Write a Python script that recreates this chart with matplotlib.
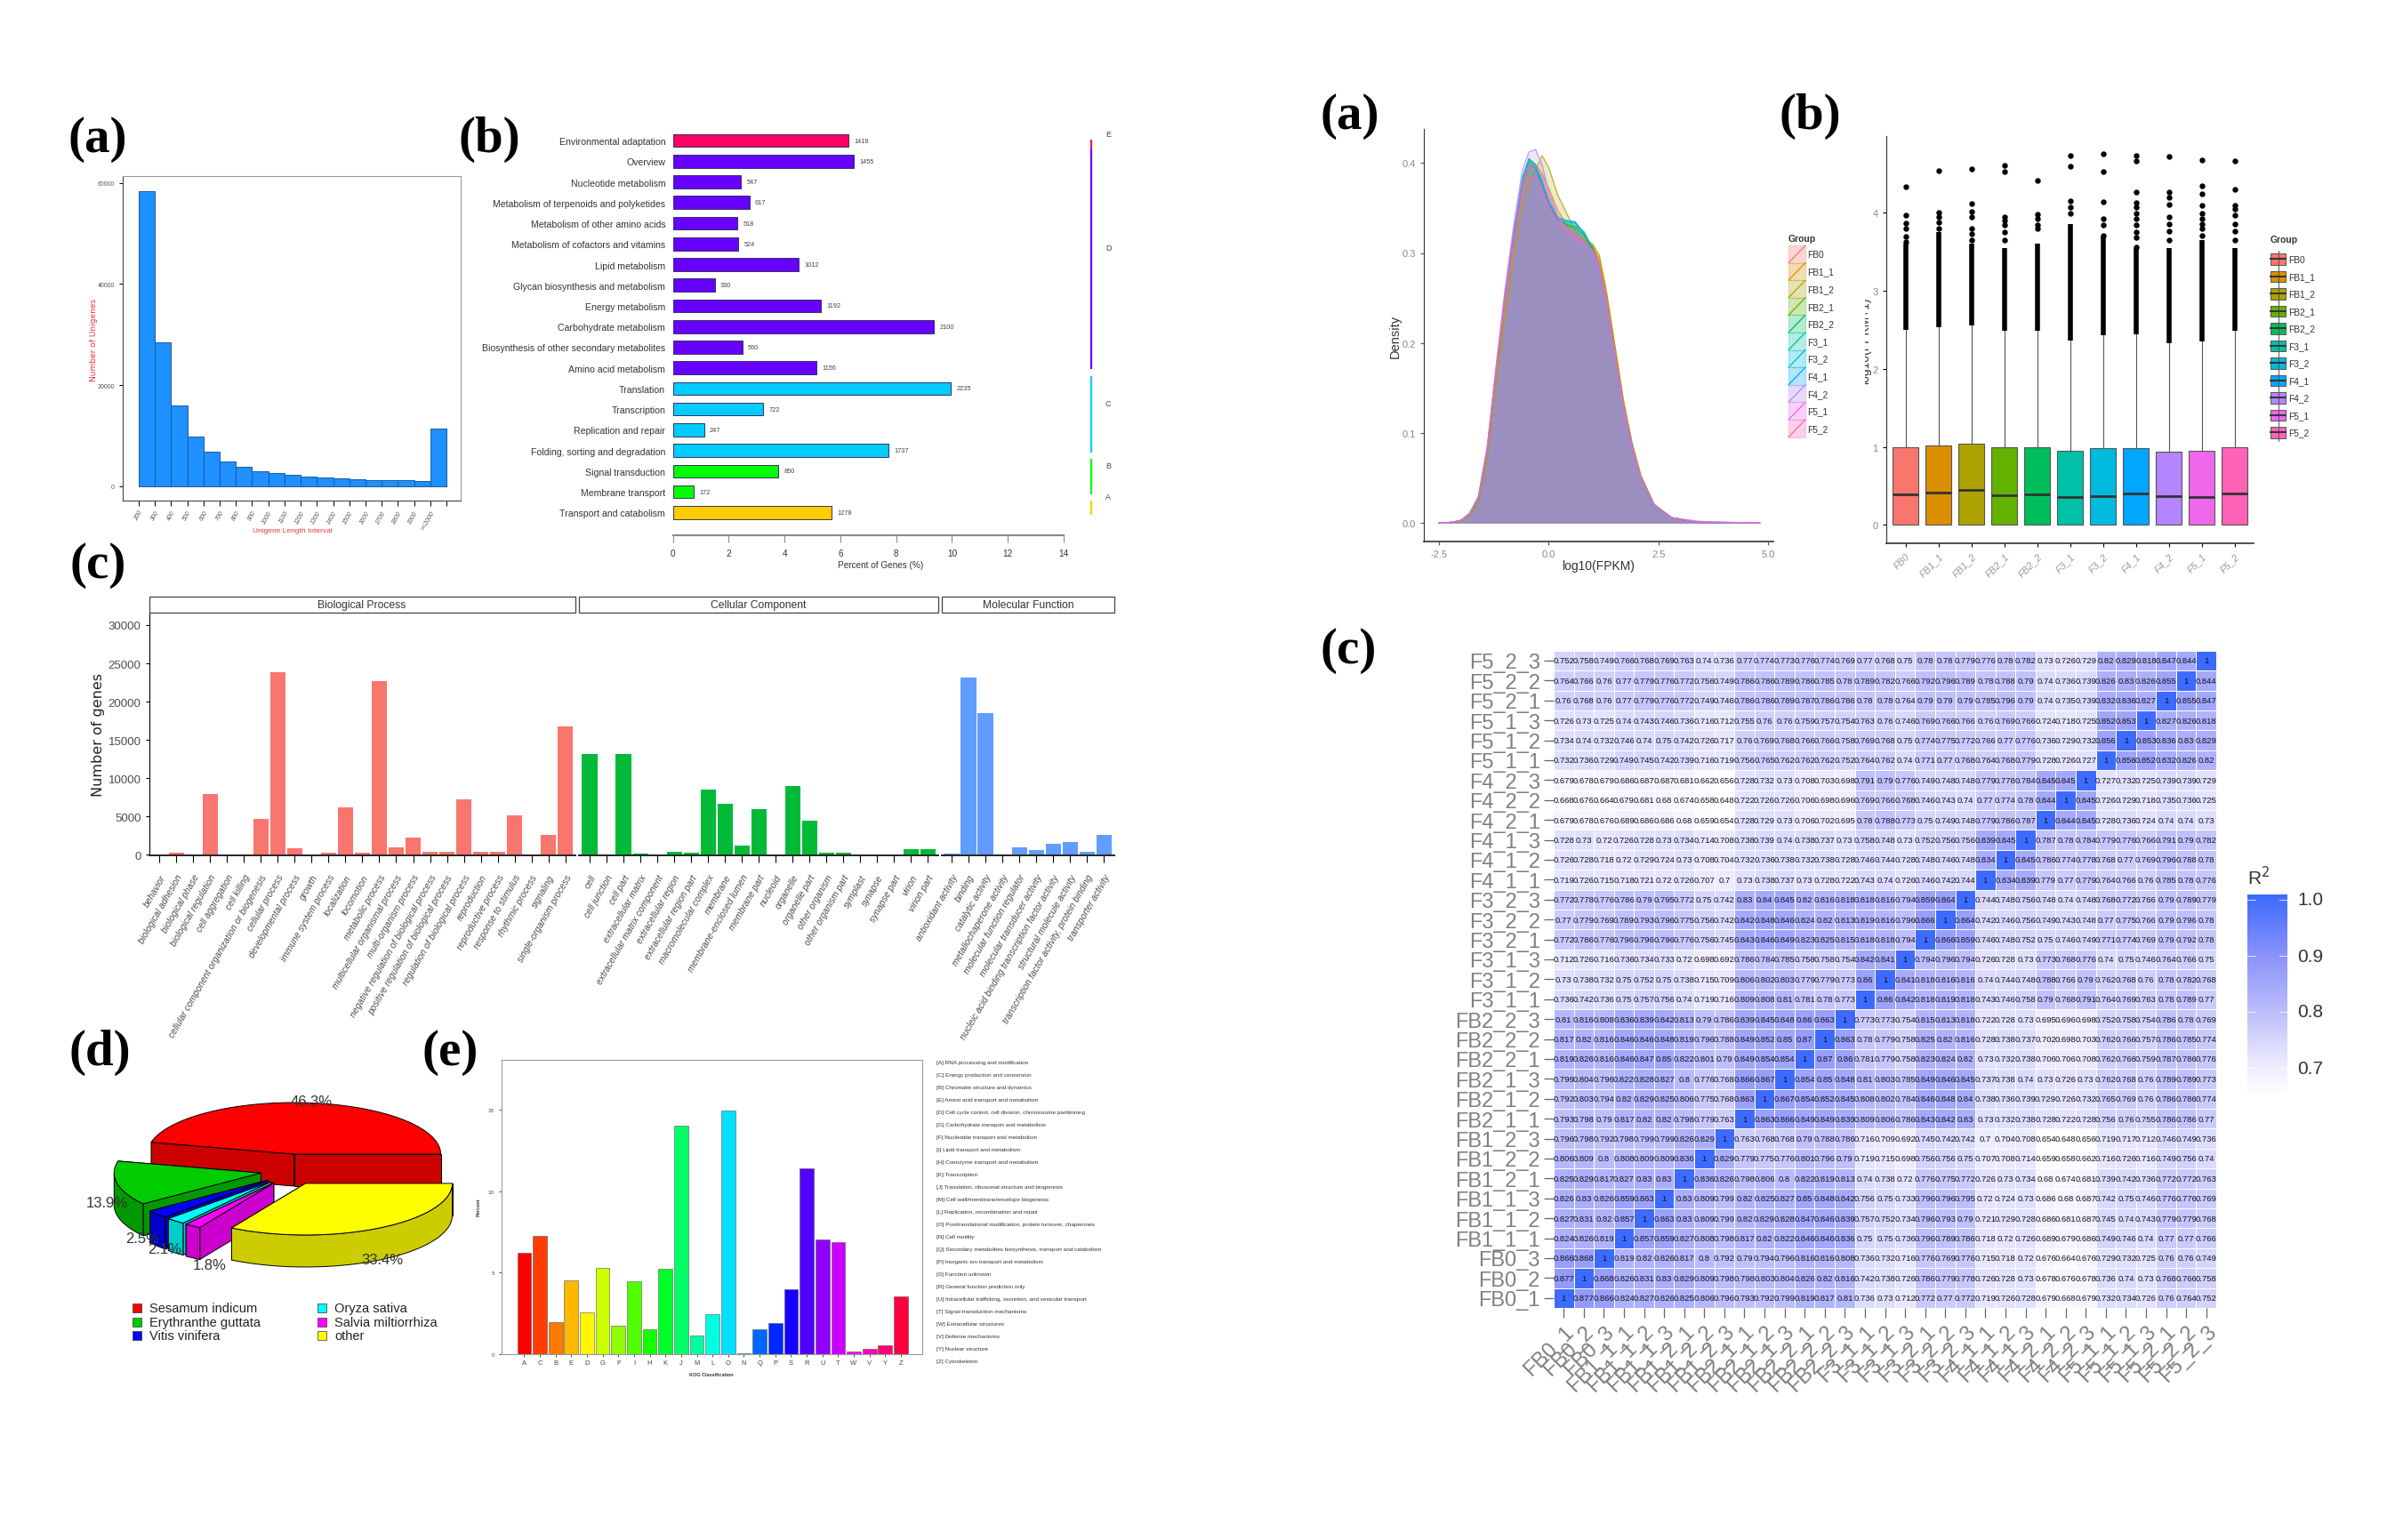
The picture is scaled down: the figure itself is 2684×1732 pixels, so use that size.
import colorsys
import numpy as np
import matplotlib
matplotlib.use("Agg")
import matplotlib.pyplot as plt
from matplotlib.colors import LinearSegmentedColormap
from matplotlib.patches import Polygon, Rectangle
from matplotlib.transforms import Bbox

plt.rcParams['font.family'] = ['Liberation Sans', 'DejaVu Sans']

W, H = 2684, 1733

# left (a) unigene length histogram
hist_labels = ['200','300','400','500','600','700','800','900','1000','1100','1200','1300',
               '1400','1500','1600','1700','1800','1900','>=2000']
hist_vals = [58300,28500,16000,9900,6800,4900,3800,3000,2700,2200,2000,1700,1500,1400,1250,1150,1150,1050,11500]

# left (b) KEGG
kegg_names = ['Environmental adaptation','Overview','Nucleotide metabolism','Metabolism of terpenoids and polyketides',
              'Metabolism of other amino acids','Metabolism of cofactors and vitamins','Lipid metabolism',
              'Glycan biosynthesis and metabolism','Energy metabolism','Carbohydrate metabolism',
              'Biosynthesis of other secondary metabolites','Amino acid metabolism','Translation','Transcription',
              'Replication and repair','Folding, sorting and degradation','Signal transduction','Membrane transport',
              'Transport and catabolism']
kegg_pct = [6.30,6.48,2.44,2.74,2.31,2.34,4.52,1.50,5.31,9.35,2.49,5.16,9.96,3.23,1.12,7.72,3.79,0.76,5.69]
kegg_counts = [1418,1455,547,617,518,524,1012,330,1192,2100,560,1156,2235,722,247,1737,850,172,1278]
kegg_groups = ['E','D','D','D','D','D','D','D','D','D','D','D','C','C','C','C','B','B','A']
kegg_colors = {'E':'#FF0060','D':'#6600FF','C':'#00CCFF','B':'#00FF00','A':'#FFCC00'}

# left (c) GO
bp_names = ['behavior','biological adhesion','biological phase','biological regulation','cell aggregation','cell killing',
            'cellular component organization or biogenesis','cellular process','developmental process','growth',
            'immune system process','localization','locomotion','metabolic process','multicellular organismal process',
            'multi-organism process','negative regulation of biological process','positive regulation of biological process',
            'regulation of biological process','reproduction','reproductive process','response to stimulus',
            'rhythmic process','signaling','single-organism process']
bp_vals = [50,250,30,7900,10,10,4700,23900,850,30,300,6250,300,22700,1000,2200,400,450,7300,400,350,5200,10,2650,16800]
cc_names = ['cell','cell junction','cell part','extracellular matrix','extracellular matrix component','extracellular region',
            'extracellular region part','macromolecular complex','membrane','membrane-enclosed lumen','membrane part',
            'nucleoid','organelle','organelle part','other organism','other organism part','symplast','synapse',
            'synapse part','virion','virion part']
cc_vals = [13200,50,13200,150,20,400,300,8500,6700,1150,6000,30,9000,4500,250,250,10,30,20,750,750]
mf_names = ['antioxidant activity','binding','catalytic activity','metallochaperone activity','molecular function regulator',
            'molecular transducer activity','nucleic acid binding transcription factor activity','structural molecule activity',
            'transcription factor activity, protein binding','transporter activity']
mf_vals = [200,23150,18450,30,950,650,1450,1650,350,2600]

# left (d) pie
pie_names = ['Sesamum indicum','Erythranthe guttata','Vitis vinifera','Oryza sativa','Salvia miltiorrhiza','other']
pie_vals = [46.3,13.9,2.5,2.1,1.8,33.4]
pie_top = ['#FF0000','#00CC00','#0000FF','#00FFFF','#FF00FF','#FFFF00']
pie_side = ['#CC0000','#009900','#0000CC','#00CCCC','#CC00CC','#CCCC00']

# left (e) KOG
kog_letters = list('ACBEDGFIHKJMLONQPSRUTWVYZ')
kog_vals = [6.2,7.25,1.95,4.55,2.55,5.3,1.75,4.45,1.55,5.25,14.0,1.15,2.45,14.95,0.08,1.55,1.9,4.0,11.4,7.05,6.85,0.15,0.35,0.55,3.55]
kog_text = ['[A] RNA processing and modification','[C] Energy production and conversion','[B] Chromatin structure and dynamics',
            '[E] Amino acid transport and metabolism','[D] Cell cycle control, cell division, chromosome partitioning',
            '[G] Carbohydrate transport and metabolism','[F] Nucleotide transport and metabolism','[I] Lipid transport and metabolism',
            '[H] Coenzyme transport and metabolism','[K] Transcription','[J] Translation, ribosomal structure and biogenesis',
            '[M] Cell wall/membrane/envelope biogenesis','[L] Replication, recombination and repair',
            '[O] Posttranslational modification, protein turnover, chaperones','[N] Cell motility',
            '[Q] Secondary metabolites biosynthesis, transport and catabolism','[P] Inorganic ion transport and metabolism',
            '[S] Function unknown','[R] General function prediction only','[U] Intracellular trafficking, secretion, and vesicular transport',
            '[T] Signal transduction mechanisms','[W] Extracellular structures','[V] Defense mechanisms','[Y] Nuclear structure','[Z] Cytoskeleton']

# right (a) density
groups = ['FB0','FB1_1','FB1_2','FB2_1','FB2_2','F3_1','F3_2','F4_1','F4_2','F5_1','F5_2']
group_colors = ['#F8766D','#DB8E00','#AEA200','#64B200','#00BD5C','#00C1A7','#00BADE','#00A6FF','#B385FF','#EF67EB','#FF63B6']
dens_x = [-2.5,-2.2,-2.0,-1.8,-1.6,-1.4,-1.2,-1.0,-0.8,-0.6,-0.45,-0.3,-0.15,0.0,0.2,0.4,0.6,0.8,1.0,1.15,1.3,1.5,1.7,1.9,2.1,2.4,2.8,3.4,4.8]
dens_fb0 = [0,.001,.003,.010,.027,.078,.163,.245,.315,.374,.396,.395,.378,.358,.338,.328,.322,.315,.308,.290,.254,.192,.130,.085,.050,.020,.006,.001,0]
dens_fb11 = [0,.001,.003,.009,.025,.074,.158,.238,.306,.366,.392,.398,.388,.372,.348,.332,.318,.312,.308,.294,.260,.198,.136,.088,.052,.021,.006,.001,0]
dens_fb12 = [0,.001,.002,.008,.023,.070,.150,.228,.295,.352,.378,.392,.408,.395,.365,.345,.325,.315,.310,.298,.262,.200,.137,.089,.053,.021,.006,.001,0]
dens_fb21 = [0,.001,.003,.010,.027,.080,.166,.248,.318,.378,.400,.396,.378,.356,.338,.332,.330,.324,.306,.286,.250,.190,.130,.084,.050,.020,.006,.001,0]
dens_fb22 = [0,.001,.003,.010,.028,.081,.168,.250,.320,.382,.404,.398,.378,.356,.337,.331,.328,.320,.305,.285,.249,.189,.129,.084,.050,.020,.006,.001,0]
dens_f31 = [0,.001,.003,.011,.029,.083,.170,.252,.322,.384,.405,.398,.378,.355,.337,.334,.333,.322,.302,.280,.244,.186,.127,.083,.049,.020,.006,.001,0]
dens_f32 = [0,.001,.003,.011,.029,.082,.169,.250,.320,.380,.402,.396,.378,.356,.339,.336,.335,.322,.302,.281,.246,.187,.128,.083,.049,.020,.006,.001,0]
dens_f41 = [0,.001,.003,.010,.027,.079,.164,.246,.316,.376,.398,.394,.376,.356,.340,.336,.334,.322,.304,.284,.250,.190,.130,.085,.050,.020,.006,.001,0]
dens_f42 = [0,.001,.003,.011,.030,.085,.174,.258,.330,.392,.412,.415,.398,.368,.342,.326,.316,.308,.300,.280,.245,.186,.127,.083,.049,.020,.006,.002,0]
dens_f51 = [0,.001,.003,.011,.029,.084,.171,.253,.323,.380,.398,.396,.384,.362,.340,.328,.320,.312,.302,.282,.246,.187,.128,.083,.049,.020,.006,.002,0]
dens_f52 = [0,.001,.003,.010,.028,.080,.165,.245,.310,.365,.385,.385,.370,.352,.335,.326,.318,.310,.303,.285,.250,.190,.130,.085,.050,.020,.006,.001,0]

# right (b) boxes
box_q1 = [0,0,0,0,0,0,0,0,0,0,0]
box_med = [.39,.41,.45,.385,.395,.355,.37,.405,.37,.355,.40]
box_q3 = [1.0,1.02,1.04,1.0,1.0,.95,.98,.98,.94,.95,1.0]
box_whi = [2.50,2.53,2.56,2.49,2.49,2.36,2.43,2.44,2.33,2.35,2.49]
band_top = [3.6,3.75,3.6,3.55,3.6,3.85,3.7,3.55,3.55,3.65,3.55]
flier_fb0 = [4.33,3.97,3.87,3.8,3.7,3.63]
flier_fb11 = [4.54,4.0,3.95,3.88,3.8]
flier_fb12 = [4.56,4.12,4.01,3.95,3.8,3.73,3.65]
flier_fb21 = [4.61,4.53,3.95,3.9,3.84,3.75,3.65]
flier_fb22 = [4.41,3.98,3.92,3.84,3.8]
flier_f31 = [4.73,4.6,4.15,4.07,3.99]
flier_f32 = [4.75,4.53,4.14,3.92,3.84,3.71]
flier_f41 = [4.73,4.67,4.26,4.13,4.07,3.99,3.92,3.84,3.75,3.69,3.56]
flier_f42 = [4.72,4.26,4.2,4.11,3.95,3.86,3.76,3.65]
flier_f51 = [4.68,4.35,4.24,4.09,3.99,3.92,3.86,3.8,3.71]
flier_f52 = [4.67,4.3,4.09,4.05,3.97,3.86,3.76,3.65]

# right (c) correlation heatmap, rows listed top to bottom
heat_labels = ['F5_2_3','F5_2_2','F5_2_1','F5_1_3','F5_1_2','F5_1_1','F4_2_3','F4_2_2','F4_2_1','F4_1_3','F4_1_2','F4_1_1',
               'F3_2_3','F3_2_2','F3_2_1','F3_1_3','F3_1_2','F3_1_1','FB2_2_3','FB2_2_2','FB2_2_1','FB2_1_3','FB2_1_2','FB2_1_1',
               'FB1_2_3','FB1_2_2','FB1_2_1','FB1_1_3','FB1_1_2','FB1_1_1','FB0_3','FB0_2','FB0_1']
heat_rows = [
 [.752,.758,.749,.766,.768,.769,.763,.74,.736,.77,.774,.773,.776,.774,.769,.77,.768,.75,.78,.78,.779,.776,.78,.782,.73,.726,.729,.82,.829,.818,.847,.844,1],
 [.764,.766,.76,.77,.779,.776,.772,.756,.749,.786,.786,.789,.786,.785,.78,.789,.782,.766,.792,.796,.789,.78,.788,.79,.74,.736,.739,.826,.83,.826,.855,1,.844],
 [.76,.768,.76,.77,.779,.776,.772,.749,.746,.786,.786,.789,.787,.786,.786,.78,.78,.764,.79,.79,.79,.785,.796,.79,.74,.735,.739,.832,.836,.827,1,.855,.847],
 [.726,.73,.725,.74,.743,.746,.736,.716,.712,.755,.76,.76,.759,.757,.754,.763,.76,.746,.769,.766,.766,.76,.769,.766,.724,.718,.725,.852,.853,1,.827,.826,.818],
 [.734,.74,.732,.746,.74,.75,.742,.726,.717,.76,.769,.768,.766,.766,.758,.769,.768,.75,.774,.775,.772,.766,.77,.776,.736,.729,.732,.856,1,.853,.836,.83,.829],
 [.732,.736,.729,.749,.745,.742,.739,.716,.719,.756,.765,.762,.762,.762,.752,.764,.762,.74,.771,.77,.768,.764,.768,.779,.728,.726,.727,1,.856,.852,.832,.826,.82],
 [.679,.678,.679,.686,.687,.687,.681,.662,.656,.728,.732,.73,.708,.703,.698,.791,.79,.776,.749,.748,.748,.779,.778,.784,.845,.845,1,.727,.732,.725,.739,.739,.729],
 [.668,.676,.664,.679,.681,.68,.674,.658,.648,.722,.726,.726,.706,.698,.696,.769,.766,.768,.746,.743,.74,.77,.774,.78,.844,1,.845,.726,.729,.718,.735,.736,.725],
 [.679,.678,.676,.689,.686,.686,.68,.659,.654,.728,.729,.73,.706,.702,.695,.78,.788,.773,.75,.749,.748,.779,.786,.787,1,.844,.845,.728,.736,.724,.74,.74,.73],
 [.728,.73,.72,.726,.728,.73,.734,.714,.708,.738,.739,.74,.738,.737,.73,.758,.748,.73,.752,.756,.756,.839,.845,1,.787,.78,.784,.779,.776,.766,.791,.79,.782],
 [.726,.728,.718,.72,.729,.724,.73,.708,.704,.732,.736,.738,.732,.738,.728,.746,.744,.728,.748,.746,.748,.834,1,.845,.786,.774,.778,.768,.77,.769,.796,.788,.78],
 [.719,.726,.715,.718,.721,.72,.726,.707,.7,.73,.738,.737,.73,.728,.722,.743,.74,.726,.746,.742,.744,1,.834,.839,.779,.77,.779,.764,.766,.76,.785,.78,.776],
 [.772,.778,.776,.786,.79,.795,.772,.75,.742,.83,.84,.845,.82,.816,.818,.818,.816,.794,.859,.864,1,.744,.748,.756,.748,.74,.748,.768,.772,.766,.79,.789,.779],
 [.77,.779,.769,.789,.793,.796,.775,.756,.742,.842,.848,.846,.824,.82,.813,.819,.816,.796,.866,1,.864,.742,.746,.756,.749,.743,.748,.77,.775,.766,.79,.796,.78],
 [.772,.786,.776,.796,.796,.796,.776,.756,.745,.843,.846,.849,.823,.825,.815,.818,.818,.794,1,.866,.859,.746,.748,.752,.75,.746,.749,.771,.774,.769,.79,.792,.78],
 [.712,.726,.716,.736,.734,.733,.72,.698,.692,.786,.784,.785,.758,.758,.754,.842,.841,1,.794,.796,.794,.726,.728,.73,.773,.768,.776,.74,.75,.746,.764,.766,.75],
 [.73,.738,.732,.75,.752,.75,.738,.715,.709,.806,.802,.803,.779,.779,.773,.86,1,.841,.818,.816,.816,.74,.744,.748,.788,.766,.79,.762,.768,.76,.78,.782,.768],
 [.736,.742,.736,.75,.757,.756,.74,.719,.716,.809,.808,.81,.781,.78,.773,1,.86,.842,.818,.819,.818,.743,.746,.758,.79,.768,.791,.764,.769,.763,.78,.789,.77],
 [.81,.816,.808,.836,.839,.842,.813,.79,.786,.839,.845,.848,.86,.863,1,.773,.773,.754,.815,.813,.818,.722,.728,.73,.695,.696,.698,.752,.758,.754,.786,.78,.769],
 [.817,.82,.816,.846,.846,.848,.819,.796,.788,.849,.852,.85,.87,1,.863,.78,.779,.758,.825,.82,.816,.728,.738,.737,.702,.698,.703,.762,.766,.757,.786,.785,.774],
 [.819,.826,.816,.846,.847,.85,.822,.801,.79,.849,.854,.854,1,.87,.86,.781,.779,.758,.823,.824,.82,.73,.732,.738,.706,.706,.708,.762,.766,.759,.787,.786,.776],
 [.799,.804,.796,.822,.828,.827,.80,.776,.768,.866,.867,1,.854,.85,.848,.81,.803,.785,.849,.846,.845,.737,.738,.74,.73,.726,.73,.762,.768,.76,.789,.789,.773],
 [.792,.803,.794,.82,.829,.825,.806,.775,.768,.863,1,.867,.854,.852,.845,.808,.802,.784,.846,.848,.84,.738,.736,.739,.729,.726,.732,.765,.769,.76,.786,.786,.774],
 [.793,.798,.79,.817,.82,.82,.798,.779,.763,1,.863,.866,.849,.849,.839,.809,.806,.786,.843,.842,.83,.73,.732,.738,.728,.722,.728,.756,.76,.755,.786,.786,.77],
 [.796,.798,.792,.798,.799,.799,.826,.829,1,.763,.768,.768,.79,.788,.786,.716,.709,.692,.745,.742,.742,.70,.704,.708,.654,.648,.656,.719,.717,.712,.746,.749,.736],
 [.806,.809,.80,.808,.809,.809,.836,1,.829,.779,.775,.776,.801,.796,.79,.719,.715,.698,.756,.756,.75,.707,.708,.714,.659,.658,.662,.716,.726,.716,.749,.756,.74],
 [.825,.829,.817,.827,.83,.83,1,.836,.826,.798,.806,.80,.822,.819,.813,.74,.738,.72,.776,.775,.772,.726,.73,.734,.68,.674,.681,.739,.742,.736,.772,.772,.763],
 [.826,.83,.826,.859,.863,1,.83,.809,.799,.82,.825,.827,.85,.848,.842,.756,.75,.733,.796,.796,.795,.72,.724,.73,.686,.68,.687,.742,.75,.746,.776,.776,.769],
 [.827,.831,.82,.857,1,.863,.83,.809,.799,.82,.829,.828,.847,.846,.839,.757,.752,.734,.796,.793,.79,.721,.729,.728,.686,.681,.687,.745,.74,.743,.779,.779,.768],
 [.824,.826,.819,1,.857,.859,.827,.808,.798,.817,.82,.822,.846,.846,.836,.75,.75,.736,.796,.789,.786,.718,.72,.726,.689,.679,.686,.749,.746,.74,.77,.77,.766],
 [.866,.868,1,.819,.82,.826,.817,.80,.792,.79,.794,.796,.816,.816,.808,.736,.732,.716,.776,.769,.776,.715,.718,.72,.676,.664,.676,.729,.732,.725,.76,.76,.749],
 [.877,1,.868,.826,.831,.83,.829,.809,.798,.798,.803,.804,.826,.82,.816,.742,.738,.726,.786,.779,.778,.726,.728,.73,.678,.676,.678,.736,.74,.73,.768,.766,.758],
 [1,.877,.866,.824,.827,.826,.825,.806,.796,.793,.792,.799,.819,.817,.81,.736,.73,.712,.772,.77,.772,.719,.726,.728,.679,.668,.679,.732,.734,.726,.76,.764,.752],
]

fig = plt.figure(figsize=(W/100, H/100), dpi=100, facecolor='white')

def pax(x0, y0, x1, y1):
    # axes from pixel box, y measured from the top
    return fig.add_axes([x0/W, 1-y1/H, (x1-x0)/W, (y1-y0)/H])

ov = fig.add_axes([0, 0, 1, 1], zorder=10)
ov.set_xlim(0, W)
ov.set_ylim(H, 0)
ov.axis('off')
ov.patch.set_alpha(0)

panels = [('(a)',110,157),('(b)',550,157),('(c)',110,636),('(d)',112,1184),('(e)',506,1184),
          ('(a)',1518,131),('(b)',2035,131),('(c)',1516,732)]
for s, x, y in panels:
    ov.text(x, y, s, family='Liberation Serif', weight='bold', size=41, ha='center', va='center', color='black')

# ---- left a
ax = pax(138, 199, 518, 564)
ax.bar(np.arange(19), hist_vals, width=1, align='edge', color='#1E90FF', edgecolor='#1C5C96', linewidth=0.7)
ax.set_xlim(-0.99, 19.88)
ax.set_ylim(-2813, 61350)
ax.set_xticks(np.arange(20))
ax.set_xticklabels(hist_labels+[''], rotation=60, ha='right', rotation_mode='anchor', style='italic', size=5, color='#555555')
ax.set_yticks([0,20000,40000,60000])
ax.tick_params(axis='y', labelsize=5, labelcolor='#555555', length=3, width=0.7)
ax.tick_params(axis='x', length=4, width=0.7, pad=3)
for k in ['top','right']:
    ax.spines[k].set_color('#999999')
for k in ['left','bottom']:
    ax.spines[k].set_color('#444444')
ov.text(106, 382, 'Number of Unigenes', color='#EE3344', rotation=90, size=6.5, ha='center', va='center', family='DejaVu Sans')
ov.text(329, 597, 'Unigene Length Interval', color='#EE3344', size=6, ha='center', va='center')

# ---- left b
ax = pax(756.5, 147, 1196, 603)
ypos = np.arange(19)[::-1]
cols = [kegg_colors[g] for g in kegg_groups]
ax.barh(ypos, kegg_pct, height=0.63, color=cols, edgecolor='#333366', linewidth=0.7)
for y, p, c in zip(ypos, kegg_pct, kegg_counts):
    ax.text(p+0.2, y, str(c), size=5.3, va='center', color='#444444')
ax.set_xlim(0, 14)
ax.set_ylim(-1.104, 18.52)
ax.set_yticks(ypos)
ax.set_yticklabels(kegg_names, size=7.6, color='#333333')
ax.set_xticks(np.arange(0, 15, 2))
ax.tick_params(axis='y', length=0, pad=6)
ax.tick_params(axis='x', labelsize=7.2, labelcolor='#333333', length=6, color='#888888', pad=5)
for k in ['top','right','left']:
    ax.spines[k].set_visible(False)
ax.spines['bottom'].set_color('#888888')
ax.spines['bottom'].set_linewidth(1.5)
ov.text(990, 636, 'Percent of Genes (%)', size=7.2, color='#333333', ha='center', va='center')
for g, y0, y1, ly in [('E',158,169,151),('D',169,416,279),('C',424,510,454),('B',517,557,524),('A',564,580,559)]:
    ov.plot([1227, 1227], [y0, y1], color=kegg_colors[g], lw=1.6, solid_capstyle='butt')
    ov.text(1246, ly, g, size=6.5, color='#444444', ha='center', va='center')

# ---- left c
go_sets = [(bp_names, bp_vals, '#F8766D', 167.5, 646.7, 'Biological Process', 179.2),
           (cc_names, cc_vals, '#00BA38', 651, 1054.5, 'Cellular Component', 663),
           (mf_names, mf_vals, '#619CFF', 1059, 1253, 'Molecular Function', 1070)]
for i, (names, vals, col, x0, x1, title, first) in enumerate(go_sets):
    ax = pax(x0, 690, x1, 963)
    ax.bar(np.arange(len(vals)), vals, width=0.9, color=col)
    left = -(first-x0)/19.02
    ax.set_xlim(left, left+(x1-x0)/19.02)
    ax.set_ylim(-70, 31625)
    ax.set_xticks(np.arange(len(vals)))
    ax.set_xticklabels(names, rotation=60, ha='right', va='top', rotation_mode='anchor', style='italic', size=7.4, color='#4d4d4d')
    ax.tick_params(axis='x', length=6, width=0.8, pad=8)
    for k in ['top','right']:
        ax.spines[k].set_visible(False)
    ax.spines['bottom'].set_linewidth(1.4)
    ax.spines['bottom'].set_color('#222222')
    if i == 0:
        ax.set_yticks(np.arange(0, 30001, 5000))
        ax.tick_params(axis='y', labelsize=9.5, labelcolor='#4d4d4d', length=3)
    else:
        ax.spines['left'].set_visible(False)
        ax.set_yticks([])
    ov.add_patch(Rectangle((x0, 671.5), x1-x0, 18.5, facecolor='white', edgecolor='#444444', lw=0.9))
    ov.text((x0+x1)/2, 680.7, title, size=8.7, color='#333333', ha='center', va='center')
ov.text(111, 827, 'Number of genes', rotation=90, size=11.5, color='#222222', ha='center', va='center', family='DejaVu Sans')

# ---- left d, exploded 3D pie
pie_a, pie_b, pie_depth = 165, 58, 36
pie_cx, pie_cy, off_x, off_y = 326.6, 1316.6, 34, 17.7
start = 0.0
for val, top, side in zip(pie_vals, pie_top, pie_side):
    end = start + val*3.6
    mid = np.radians((start+end)/2)
    tx, ty = pie_cx + off_x*np.cos(mid), pie_cy - off_y*np.sin(mid)
    th = np.radians(np.linspace(start, end, 80))
    ax_x = tx + pie_a*np.cos(th)
    ax_y = ty - pie_b*np.sin(th)
    for k in [0, -1]:
        wall = [(tx, ty), (ax_x[k], ax_y[k]), (ax_x[k], ax_y[k]+pie_depth), (tx, ty+pie_depth)]
        ov.add_patch(Polygon(wall, closed=True, facecolor=side, edgecolor='black', lw=0.7))
    front = np.sin(th) <= 0
    if front.any():
        outer = list(zip(ax_x[front], ax_y[front])) + list(zip(ax_x[front][::-1], ax_y[front][::-1]+pie_depth))
        ov.add_patch(Polygon(outer, closed=True, facecolor=side, edgecolor='black', lw=0.7))
    ov.add_patch(Polygon([(tx, ty)]+list(zip(ax_x, ax_y)), closed=True, facecolor=top, edgecolor='black', lw=0.7))
    start = end
for s, x, y in [('46.3%',350,1239),('13.9%',120,1354),('2.5%',160,1393),('2.1%',185,1405),('1.8%',236,1423),('33.4%',430,1418)]:
    ov.text(x, y, s, size=12, color='#333333', ha='center', va='center')
pie_leg = [(154,1472),(154,1488),(154,1503),(362,1472),(362,1488),(362,1503)]
for (x, y), name, top in zip(pie_leg, pie_names, pie_top):
    ov.add_patch(Rectangle((x-5, y-5), 10, 10, facecolor=top, edgecolor='#333333', lw=0.5))
    ov.text(x+14, y, name, size=10.5, color='#222222', va='center')

# ---- left e
ax = pax(563.5, 1193, 1037, 1524)
kog_cols = [colorsys.hsv_to_rgb(i/25, 1, 1) for i in range(25)]
ax.bar(np.arange(25), kog_vals, width=0.89, color=kog_cols, edgecolor='#555555', linewidth=0.4)
ax.set_xlim(-1.467, 25.36)
ax.set_ylim(0, 18.04)
ax.set_xticks(np.arange(25))
ax.set_xticklabels(kog_letters, size=5.5, color='#444444')
ax.set_yticks([0,5,10,15])
ax.tick_params(axis='y', labelsize=4.5, labelcolor='#444444', length=2, width=0.5)
ax.tick_params(axis='x', length=2, width=0.5, pad=2)
for k in ax.spines:
    ax.spines[k].set_color('#999999')
ov.text(538, 1358, 'Percent', rotation=90, size=4, weight='bold', color='#333333', ha='center', va='center')
ov.text(800, 1547, 'KOG Classification', size=4, weight='bold', color='#333333', ha='center', va='center')
for i, s in enumerate(kog_text):
    ov.text(1053, 1195+14.03*i, s, size=4.6, color='#333333', va='center')

# ---- right a
ax = pax(1600.7, 146, 1994, 610)
dens_all = [dens_fb0,dens_fb11,dens_fb12,dens_fb21,dens_fb22,dens_f31,dens_f32,dens_f41,dens_f42,dens_f51,dens_f52]
for d, c in zip(dens_all, group_colors):
    ax.fill_between(dens_x, d, 0, color=c, alpha=0.22, linewidth=0)
    ax.plot(dens_x, d, color=c, lw=0.9, alpha=0.8)
ax.set_xlim((1600.7-1741.4)/49.4, (1994-1741.4)/49.4)
ax.set_ylim(-(610-589.4)/1013, (589.4-146)/1013)
ax.set_xticks([-2.5,0,2.5,5])
ax.set_xticklabels(['-2.5','0.0','2.5','5.0'])
ax.set_yticks([0,.1,.2,.3,.4])
ax.set_yticklabels(['0.0','0.1','0.2','0.3','0.4'])
ax.tick_params(labelsize=8, labelcolor='#888888', length=3, color='#555555')
for k in ['top','right']:
    ax.spines[k].set_visible(False)
ax.spines['left'].set_color('#333333')
ax.spines['bottom'].set_color('#333333')
ax.spines['bottom'].set_linewidth(1.2)
ov.text(1797, 637, 'log10(FPKM)', size=10, color='#333333', ha='center', va='center')
ov.text(1569, 378, 'Density', size=10.5, rotation=90, color='#333333', ha='center', va='center')
ov.text(2011, 269, 'Group', size=7.5, weight='bold', color='#333333', va='center')
for i, (g, c) in enumerate(zip(groups, group_colors)):
    y0 = 277 + 19.6*i
    ov.add_patch(Rectangle((2011, y0), 19, 19.6, facecolor=c, alpha=0.3, edgecolor=c, lw=0.8))
    ov.plot([2011, 2030], [y0+19.6, y0], color=c, lw=0.9)
    ov.text(2032, y0+10, g, size=7.3, color='#333333', va='center')

# ---- right b
ax = pax(2120.6, 153.6, 2533.7, 611.6)
fliers = [flier_fb0,flier_fb11,flier_fb12,flier_fb21,flier_fb22,flier_f31,flier_f32,flier_f41,flier_f42,flier_f51,flier_f52]
stats = [dict(med=m, q1=a, q3=b, whislo=a, whishi=w, fliers=f)
         for m, a, b, w, f in zip(box_med, box_q1, box_q3, box_whi, fliers)]
pos = np.arange(11)
res = ax.bxp(stats, positions=pos, widths=0.77, patch_artist=True, showcaps=False,
             boxprops=dict(edgecolor='#555555', linewidth=0.8),
             medianprops=dict(color='#333333', linewidth=2),
             whiskerprops=dict(color='#555555', linewidth=0.8),
             flierprops=dict(marker='o', markerfacecolor='black', markeredgecolor='black', markersize=3.6))
for b, c in zip(res['boxes'], group_colors):
    b.set_facecolor(c)
ax.vlines(pos, box_whi, band_top, color='black', lw=4)
ax.set_xlim(-0.592, 10.57)
ax.set_ylim(-0.231, 4.988)
ax.set_xticks(pos)
ax.set_xticklabels(groups, rotation=45, ha='right', rotation_mode='anchor', style='italic', size=8, color='#999999')
ax.set_yticks([0,1,2,3,4])
ax.tick_params(axis='y', labelsize=8, labelcolor='#888888', length=3)
ax.tick_params(axis='x', length=3)
for k in ['top','right']:
    ax.spines[k].set_visible(False)
ax.spines['left'].set_color('#333333')
ax.spines['bottom'].set_color('#333333')
ax.spines['bottom'].set_linewidth(1.2)
# the y title is cut off down its left side in the original
t = ov.text(2097, 383, 'log10(FPKM+1)', size=10, rotation=90, color='#333333', ha='center', va='center', clip_on=True)
t.set_clip_box(Bbox([[2097, 0], [2120, H]]))
ov.text(2553, 270, 'Group', size=7.5, weight='bold', color='#333333', va='center')
for i, (g, c) in enumerate(zip(groups, group_colors)):
    y0 = 282.6 + 19.5*i
    ov.plot([2561.5, 2561.5], [y0, y0+19.5], color='#555555', lw=0.7)
    ov.add_patch(Rectangle((2553, y0+3.5), 17, 12.5, facecolor=c, edgecolor='#555555', lw=0.7))
    ov.plot([2553, 2570], [y0+9.75, y0+9.75], color='#333333', lw=1.4)
    ov.text(2573, y0+10, g, size=7.3, color='#333333', va='center')

# ---- right c
heat_cmap = LinearSegmentedColormap.from_list('r2', [(0,'#FFFFFF'),(0.2,'#E6E4FE'),(0.43,'#BABBFC'),(0.71,'#8791FA'),(1,'#3D6BFF')])
ax = pax(1747, 732.7, 2492, 1472)
heat = np.array(heat_rows)[::-1]
ax.pcolormesh(heat, cmap=heat_cmap, vmin=0.65, vmax=1.0, edgecolors='#FFFFFF', linewidth=0.4)
for r in range(33):
    for c in range(33):
        ax.text(c+0.5, r+0.5, str(heat[r, c]) if heat[r, c] < 1 else '1', size=6.8, color='#11111F', ha='center', va='center')
ax.set_xlim(0, 33)
ax.set_ylim(0, 33)
ax.set_xticks(np.arange(33)+0.5)
ax.set_xticklabels(heat_labels[::-1], rotation=45, ha='right', rotation_mode='anchor', size=17, color='#808080')
ax.set_yticks(np.arange(33)+0.5)
ax.set_yticklabels(heat_labels[::-1], size=17, color='#808080')
ax.tick_params(length=8, width=0.9, color='#666666', pad=3)
for k in ax.spines:
    ax.spines[k].set_visible(False)

# colour bar
cb = pax(2527, 1007, 2572, 1233)
cb_vals = np.linspace(0.65, 1.0, 256).reshape(-1, 1)
cb.imshow(cb_vals, cmap=heat_cmap, vmin=0.65, vmax=1.0, origin='lower', aspect='auto', extent=[0, 1, 0.65, 1.009])
cb.set_xticks([])
cb.set_yticks([])
for k in cb.spines:
    cb.spines[k].set_visible(False)
for v, lab in [(1.0,'1.0'),(.9,'0.9'),(.8,'0.8'),(.7,'0.7')]:
    cb.plot([0, .2], [v, v], color='white', lw=0.8, alpha=0.7)
    cb.plot([.8, 1], [v, v], color='white', lw=0.8, alpha=0.7)
cb.set_xlim(0, 1)
cb.set_ylim(0.65, 1.009)
for lab, y in [('1.0',1012.7),('0.9',1076.7),('0.8',1139),('0.7',1202)]:
    ov.text(2583, y, lab, size=15, color='#333333', va='center')
ov.text(2527, 987, 'R$^{2}$', size=15, color='#333333', va='center')

fig.savefig('out.png', dpi=100, facecolor='white')
